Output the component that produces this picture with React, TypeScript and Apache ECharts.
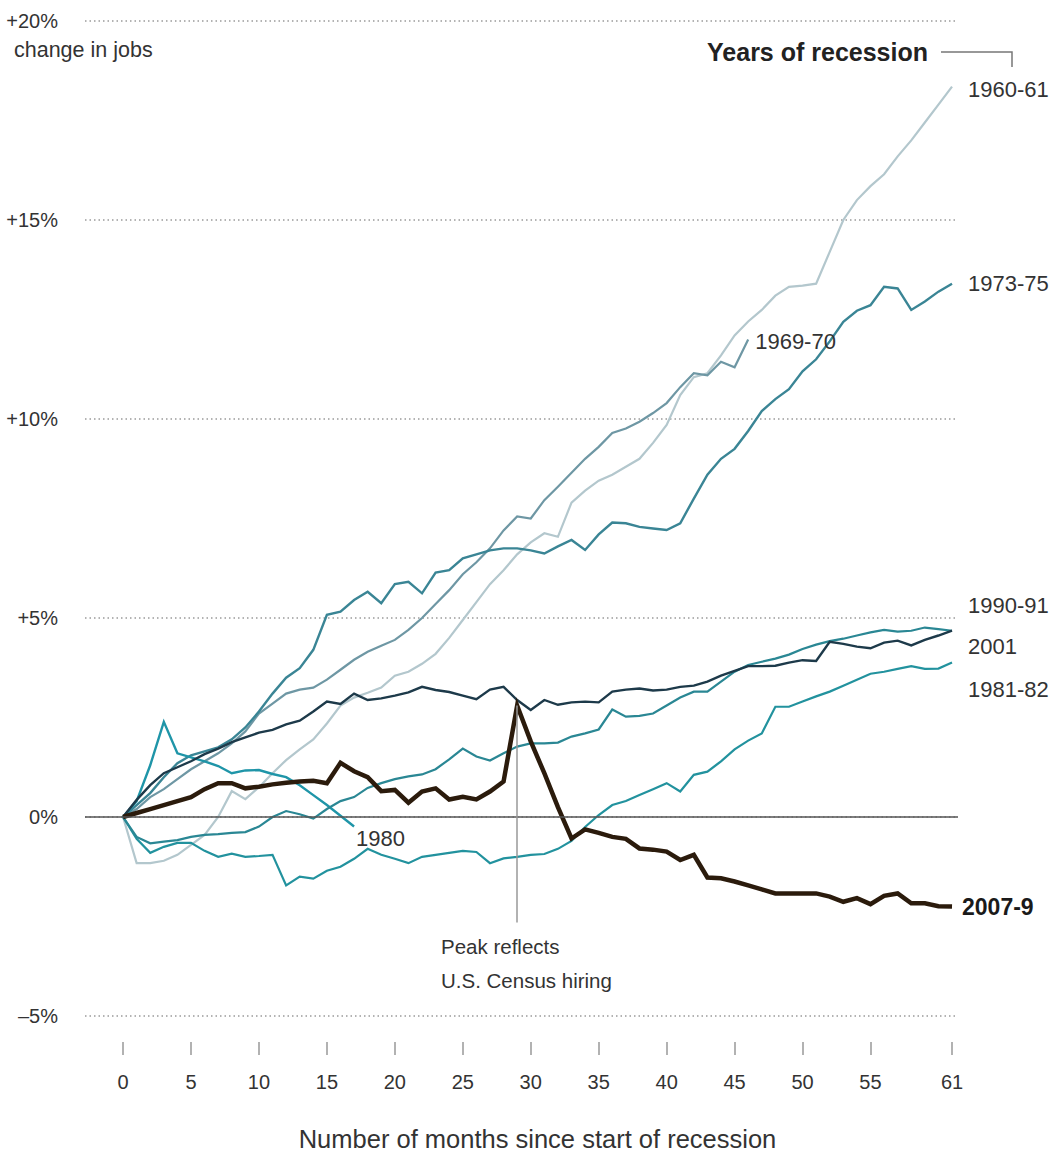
import React, { useEffect, useRef } from "react";
import * as echarts from "echarts";

const SANS = "'Liberation Sans', Arial, Helvetica, sans-serif";

// x ticks (months since start of recession)
const xTickValues = [0, 5, 10, 15, 20, 25, 30, 35, 40, 45, 50, 55, 61];
// y tick labels for -5, 0, 5, 10, 15, 20
const yTickLabels = ["–5%", "0%", "+5%", "+10%", "+15%", "+20%"];

// % change in jobs, month 0..n
const r1960 = [
  0, -1.16, -1.16, -1.1, -0.95, -0.7, -0.45, 0.0, 0.65, 0.45,
  0.75, 1.1, 1.43, 1.7, 1.95, 2.35, 2.8, 3.0, 3.12, 3.25,
  3.55, 3.65, 3.85, 4.1, 4.5, 4.95, 5.4, 5.85, 6.2, 6.6,
  6.9, 7.13, 7.04, 7.9, 8.2, 8.45, 8.6, 8.8, 9.0, 9.4,
  9.85, 10.6, 11.05, 11.15, 11.6, 12.1, 12.45, 12.74, 13.1, 13.32,
  13.35, 13.4, 14.2, 15.0, 15.5, 15.85, 16.15, 16.6, 17.0, 17.45,
  17.9, 18.35,
];
const r1969 = [
  0, 0.2, 0.5, 0.7, 0.95, 1.2, 1.4, 1.6, 1.85, 2.15,
  2.6, 2.85, 3.1, 3.2, 3.25, 3.45, 3.7, 3.95, 4.15, 4.3,
  4.45, 4.7, 5.0, 5.35, 5.7, 6.1, 6.4, 6.75, 7.2, 7.55,
  7.5, 7.96, 8.3, 8.65, 9.0, 9.3, 9.65, 9.76, 9.93, 10.15,
  10.4, 10.8, 11.15, 11.1, 11.44, 11.3, 12.0,
];
const r1973 = [
  0, 0.3, 0.6, 1.0, 1.35, 1.55, 1.65, 1.75, 1.95, 2.25,
  2.65, 3.1, 3.5, 3.74, 4.2, 5.08, 5.16, 5.45, 5.66, 5.37,
  5.85, 5.91, 5.62, 6.14, 6.2, 6.5, 6.6, 6.7, 6.75, 6.75,
  6.7, 6.62, 6.8, 6.96, 6.71, 7.1, 7.4, 7.38, 7.29, 7.25,
  7.21, 7.38, 8.0, 8.6, 9.0, 9.25, 9.7, 10.2, 10.5, 10.75,
  11.2, 11.5, 11.95, 12.44, 12.72, 12.86, 13.32, 13.28, 12.74, 12.95,
  13.2, 13.4,
];
const r1980 = [
  0, 0.4, 1.3, 2.39, 1.6, 1.5, 1.4, 1.28, 1.1, 1.17,
  1.18, 1.08, 1.0, 0.8, 0.55, 0.3, 0.03, -0.24,
];
const r1981 = [
  0, -0.55, -0.9, -0.75, -0.65, -0.65, -0.85, -1.0, -0.92, -1.0,
  -0.98, -0.95, -1.72, -1.5, -1.55, -1.35, -1.25, -1.05, -0.8, -0.95,
  -1.05, -1.16, -1.0, -0.95, -0.9, -0.85, -0.88, -1.16, -1.04, -1.0,
  -0.95, -0.93, -0.8, -0.6, -0.25, 0.05, 0.3, 0.4, 0.55, 0.7,
  0.85, 0.64, 1.06, 1.14, 1.4, 1.7, 1.92, 2.1, 2.77, 2.77,
  2.9, 3.03, 3.15, 3.3, 3.45, 3.6, 3.65, 3.72, 3.79, 3.72,
  3.73, 3.88,
];
const r1990 = [
  0, -0.5, -0.66, -0.62, -0.58, -0.5, -0.45, -0.43, -0.4, -0.38,
  -0.24, 0.0, 0.15, 0.07, -0.04, 0.2, 0.4, 0.5, 0.73, 0.85,
  0.95, 1.02, 1.07, 1.2, 1.45, 1.72, 1.52, 1.42, 1.6, 1.77,
  1.85, 1.85, 1.87, 2.02, 2.1, 2.2, 2.7, 2.52, 2.54, 2.6,
  2.8, 3.0, 3.15, 3.15, 3.4, 3.65, 3.82, 3.9, 3.98, 4.08,
  4.22, 4.33, 4.42, 4.48, 4.56, 4.64, 4.7, 4.66, 4.68, 4.76,
  4.72, 4.68,
];
const r2001 = [
  0, 0.43, 0.8, 1.1, 1.25, 1.4, 1.58, 1.72, 1.88, 2.0,
  2.12, 2.19, 2.33, 2.42, 2.65, 2.9, 2.84, 3.1, 2.94, 2.98,
  3.05, 3.13, 3.27, 3.19, 3.14, 3.05, 2.96, 3.2, 3.27, 2.94,
  2.69, 2.94, 2.82, 2.88, 2.9, 2.88, 3.15, 3.2, 3.23, 3.18,
  3.2, 3.27, 3.3, 3.4, 3.55, 3.67, 3.79, 3.79, 3.8, 3.88,
  3.94, 3.92, 4.4, 4.35, 4.28, 4.24, 4.38, 4.43, 4.31, 4.45,
  4.56, 4.68,
];
const r2007 = [
  0, 0.1, 0.2, 0.3, 0.4, 0.5, 0.7, 0.85, 0.85, 0.72,
  0.76, 0.82, 0.86, 0.89, 0.91, 0.85, 1.36, 1.15, 1.0, 0.65,
  0.68, 0.36, 0.64, 0.72, 0.44, 0.51, 0.44, 0.64, 0.89, 2.8,
  1.9, 1.1, 0.25, -0.54, -0.31, -0.4, -0.5, -0.55, -0.79, -0.82,
  -0.87, -1.08, -0.95, -1.52, -1.54, -1.62, -1.72, -1.82, -1.92, -1.92,
  -1.92, -1.92, -2.0, -2.13, -2.04, -2.19, -1.98, -1.92, -2.17, -2.17,
  -2.24, -2.25,
];

const peakMonth = 29;

const toPairs = (arr: number[]) => arr.map((v, i) => [i, v]);

export default function App() {
  const ref = useRef<HTMLDivElement>(null);

  useEffect(() => {
    if (!ref.current) return;
    const chart = echarts.init(ref.current, null, { renderer: "svg" });

    const mk = (
      name: string,
      data: number[],
      color: string,
      width: number,
      distance: number,
      dy: number,
      bold = false,
      extra: any = {}
    ) => ({
      name,
      type: "line",
      data: toPairs(data),
      symbol: "none",
      showSymbol: false,
      silent: true,
      lineStyle: { color, width, join: "miter" },
      endLabel: {
        show: true,
        formatter: name,
        distance,
        offset: [0, dy],
        color: bold ? "#1a1a1a" : "#333",
        fontSize: bold ? 23 : 22,
        fontWeight: bold ? "bold" : "normal",
        fontFamily: SANS,
      },
      ...extra,
    });

    const option: any = {
      animation: false,
      backgroundColor: "#ffffff",
      grid: { left: 85, right: 98, top: 21, bottom: 143, containLabel: false },
      xAxis: {
        type: "value",
        min: -2.8,
        max: 61.44,
        offset: 26,
        axisLine: { show: false, onZero: false },
        axisTick: {
          show: true,
          customValues: xTickValues,
          length: 13,
          lineStyle: { color: "#999", width: 1.5 },
        },
        axisLabel: {
          customValues: xTickValues,
          margin: 30,
          fontSize: 20,
          fontFamily: SANS,
          color: "#333",
        },
        splitLine: { show: false },
        name: "Number of months since start of recession",
        nameLocation: "middle",
        nameGap: 84,
        nameTextStyle: {
          fontSize: 25.5,
          fontFamily: SANS,
          color: "#333",
          padding: [0, 0, 0, 32],
        },
      },
      yAxis: {
        type: "value",
        min: -5,
        max: 20,
        interval: 5,
        axisLine: { show: false },
        axisTick: { show: false },
        axisLabel: {
          formatter: (v: number) => yTickLabels[Math.round((v + 5) / 5)],
          margin: 27,
          fontSize: 20,
          color: "#333",
          fontFamily: SANS,
        },
        splitLine: {
          show: true,
          lineStyle: { color: "#9a9a9a", type: [1.5, 3], width: 1.5 },
        },
      },
      series: [
        mk("1960-61", r1960, "#b3c7cd", 2.2, 16, 3, false, {
          markLine: {
            silent: true,
            symbol: "none",
            label: { show: false },
            lineStyle: { color: "#555", width: 1.5, type: "solid" },
            data: [{ yAxis: 0 }],
          },
        }),
        mk("1969-70", r1969, "#6e97a4", 2.2, 7, 2),
        mk("1973-75", r1973, "#3a8595", 2.4, 16, 0),
        mk("1980", r1980, "#1f95a8", 2.4, 2, 12),
        mk("1981-82", r1981, "#22929e", 2.2, 16, 27),
        mk("1990-91", r1990, "#2a8794", 2.2, 16, -25),
        mk("2001", r2001, "#1d3a4a", 2.4, 16, 16),
        mk("2007-9", r2007, "#2b1b0c", 4.5, 10, 0, true, {
          markLine: {
            silent: true,
            symbol: "none",
            label: { show: false },
            lineStyle: { color: "#999", width: 1.5, type: "solid" },
            data: [
              [
                { coord: [peakMonth, r2007[peakMonth]] },
                { coord: [peakMonth, -2.65] },
              ],
            ],
          },
        }),
      ],
      graphic: [
        {
          type: "text",
          x: 14,
          y: 50,
          style: {
            text: "change in jobs",
            fill: "#333",
            font: `21.5px ${SANS}`,
            align: "left",
            verticalAlign: "middle",
            textAlign: "left",
            textVerticalAlign: "middle",
          },
        },
        {
          type: "text",
          x: 928,
          y: 52,
          style: {
            text: "Years of recession",
            fill: "#222",
            font: `bold 25px ${SANS}`,
            align: "right",
            verticalAlign: "middle",
            textAlign: "right",
            textVerticalAlign: "middle",
          },
        },
        {
          type: "polyline",
          shape: { points: [[941, 52], [1012, 52], [1012, 67]] },
          style: { stroke: "#777", lineWidth: 1.5, fill: null },
        },
        {
          type: "text",
          x: 441,
          y: 946,
          style: {
            text: "Peak reflects",
            fill: "#333",
            font: `20.5px ${SANS}`,
            align: "left",
            verticalAlign: "middle",
            textAlign: "left",
            textVerticalAlign: "middle",
          },
        },
        {
          type: "text",
          x: 441,
          y: 980,
          style: {
            text: "U.S. Census hiring",
            fill: "#333",
            font: `20.5px ${SANS}`,
            align: "left",
            verticalAlign: "middle",
            textAlign: "left",
            textVerticalAlign: "middle",
          },
        },
      ],
    };

    chart.setOption(option);
    return () => chart.dispose();
  }, []);

  return (
    <div
      ref={ref}
      style={{ position: "absolute", left: 0, top: 0, width: 1056, height: 1159, background: "#fff" }}
    />
  );
}
